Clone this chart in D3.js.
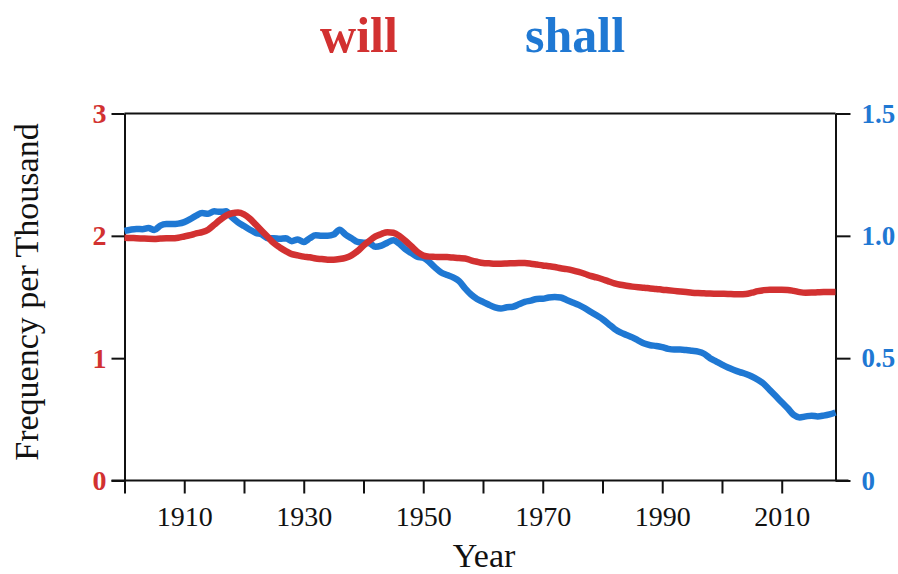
<!DOCTYPE html>
<html><head><meta charset="utf-8">
<script src="https://cdn.jsdelivr.net/npm/d3@7"></script>
<style>html,body{margin:0;padding:0;background:#fff;}svg{display:block;}</style>
</head><body>
<svg id="chart" width="898" height="574"></svg>
<script>
const years = d3.range(1900, 2020);
const willValues = [
1.985,1.983,1.98,1.978,1.976,1.975,1.978,1.98,1.98,1.985,
1.995,2.005,2.02,2.03,2.05,2.09,2.13,2.165,2.185,2.19,
2.175,2.14,2.09,2.04,1.99,1.94,1.905,1.875,1.85,1.84,
1.83,1.825,1.815,1.81,1.805,1.805,1.81,1.82,1.84,1.875,
1.92,1.96,1.995,2.015,2.03,2.025,2.0,1.96,1.915,1.87,
1.84,1.83,1.828,1.826,1.826,1.822,1.818,1.815,1.8,1.788,
1.778,1.775,1.772,1.772,1.774,1.776,1.778,1.777,1.772,1.765,
1.758,1.752,1.745,1.735,1.728,1.718,1.705,1.69,1.673,1.66,
1.645,1.628,1.612,1.6,1.592,1.585,1.58,1.576,1.57,1.566,
1.56,1.555,1.55,1.545,1.54,1.535,1.532,1.53,1.528,1.527,
1.526,1.525,1.523,1.522,1.524,1.535,1.548,1.556,1.56,1.56,
1.56,1.558,1.55,1.54,1.535,1.536,1.538,1.54,1.54,1.54
];
const shallValues = [
1.02,1.025,1.028,1.027,1.032,1.024,1.042,1.048,1.048,1.05,
1.056,1.068,1.083,1.093,1.09,1.1,1.098,1.1,1.075,1.055,
1.04,1.025,1.012,1.005,0.99,0.99,0.988,0.99,0.978,0.985,
0.975,0.99,1.002,1.0,1.0,1.005,1.025,1.005,0.99,0.975,
0.972,0.97,0.955,0.96,0.972,0.982,0.968,0.945,0.93,0.915,
0.91,0.893,0.87,0.85,0.84,0.83,0.815,0.785,0.76,0.742,
0.73,0.718,0.708,0.703,0.708,0.71,0.72,0.73,0.735,0.742,
0.743,0.748,0.75,0.748,0.738,0.728,0.718,0.705,0.69,0.675,
0.66,0.64,0.62,0.605,0.595,0.585,0.572,0.56,0.553,0.55,
0.545,0.538,0.535,0.535,0.533,0.53,0.527,0.518,0.5,0.487,
0.474,0.462,0.452,0.443,0.435,0.425,0.412,0.395,0.37,0.345,
0.32,0.295,0.268,0.258,0.262,0.265,0.262,0.265,0.27,0.278
];
const xTicks = [1900,1910,1920,1930,1940,1950,1960,1970,1980,1990,2000,2010];
const xTickLabels = ["","1910","","1930","","1950","","1970","","1990","","2010"];
const leftTicks = [0,1,2,3];
const leftTickLabels = ["0","1","2","3"];
const rightTicks = [0,0.5,1.0,1.5];
const rightTickLabels = ["0","0.5","1.0","1.5"];
const seriesNames = ["will","shall"];

const RED = "#d23131", BLUE = "#1f78d3";
const serif = "'Liberation Serif','Times New Roman',serif";
const svg = d3.select("#chart");
const L = 124.5, R = 835.5, T = 113.5, B = 480.5;

const x = d3.scaleLinear().domain([1900, 2019]).range([L, R]);
const yL = d3.scaleLinear().domain([0, 3]).range([B, T]);
const yR = d3.scaleLinear().domain([0, 1.5]).range([B, T]);

// frame top
svg.append("line").attr("x1", L).attr("x2", R).attr("y1", T).attr("y2", T)
  .attr("stroke", "#111").attr("stroke-width", 2);

function styleAxis(g) {
  g.select(".domain").attr("stroke", "#111").attr("stroke-width", 2);
  g.selectAll(".tick line").attr("stroke", "#111").attr("stroke-width", 2);
}

const gx = svg.append("g").attr("transform", `translate(0,${B})`)
  .call(d3.axisBottom(x).tickValues(xTicks).tickSize(13).tickSizeOuter(0)
    .tickPadding(13).tickFormat((d, i) => xTickLabels[i]));
styleAxis(gx);
gx.selectAll(".tick text").attr("font-family", serif).attr("font-size", 28).attr("fill", "#111");
gx.select(".domain").attr("d", `M${L-13},0H${R+13}`);

const gl = svg.append("g").attr("transform", `translate(${L},0)`)
  .call(d3.axisLeft(yL).tickValues(leftTicks).tickSize(13).tickSizeOuter(0)
    .tickPadding(5).tickFormat((d, i) => leftTickLabels[i]));
styleAxis(gl);
gl.selectAll(".tick text").attr("font-family", serif).attr("font-size", 28)
  .attr("font-weight", "bold").attr("fill", RED);

const gr = svg.append("g").attr("transform", `translate(${R},0)`)
  .call(d3.axisRight(yR).tickValues(rightTicks).tickSize(15).tickSizeOuter(0)
    .tickPadding(11).tickFormat((d, i) => rightTickLabels[i]));
styleAxis(gr);
gr.selectAll(".tick text").attr("font-family", serif).attr("font-size", 27)
  .attr("font-weight", "bold").attr("fill", BLUE);

// lines
const willLine = d3.line().x((d, i) => x(years[i])).y(d => yL(d)).curve(d3.curveMonotoneX);
const shallLine = d3.line().x((d, i) => x(years[i])).y(d => yR(d)).curve(d3.curveMonotoneX);

svg.append("path").datum(shallValues).attr("d", shallLine)
  .attr("fill", "none").attr("stroke", BLUE).attr("stroke-width", 6.5)
  .attr("stroke-linejoin", "round");
svg.append("path").datum(willValues).attr("d", willLine)
  .attr("fill", "none").attr("stroke", RED).attr("stroke-width", 6.5)
  .attr("stroke-linejoin", "round");

// titles
svg.append("text").attr("x", 359).attr("y", 52).attr("text-anchor", "middle")
  .attr("font-family", serif).attr("font-weight", "bold").attr("font-size", 50)
  .attr("fill", RED).text(seriesNames[0]);
svg.append("text").attr("x", 575).attr("y", 52).attr("text-anchor", "middle")
  .attr("font-family", serif).attr("font-weight", "bold").attr("font-size", 50)
  .attr("fill", BLUE).text(seriesNames[1]);

svg.append("text").attr("x", 484).attr("y", 567).attr("text-anchor", "middle")
  .attr("font-family", serif).attr("font-size", 34).attr("fill", "#111").text("Year");
svg.append("text").attr("transform", "translate(38,292) rotate(-90)")
  .attr("text-anchor", "middle").attr("font-family", serif).attr("font-size", 34)
  .attr("fill", "#111").text("Frequency per Thousand");
</script>
</body></html>
